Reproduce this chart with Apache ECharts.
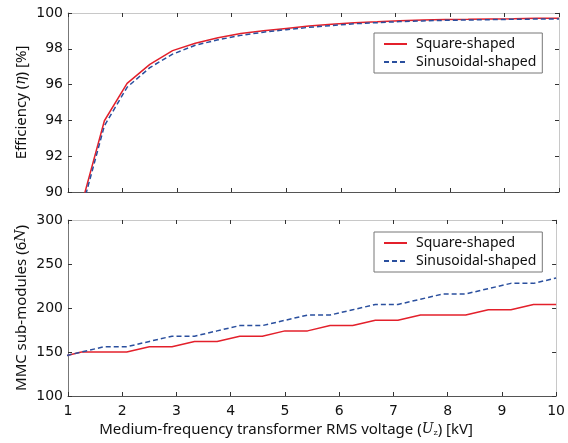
<!DOCTYPE html>
<html>
<head>
<meta charset="utf-8">
<script src="https://cdn.jsdelivr.net/npm/echarts@6/dist/echarts.min.js"></script>
<style>
  html, body { margin: 0; padding: 0; background: #fff; }
  #chart { width: 568px; height: 443px; }
</style>
</head>
<body>
<div id="chart"></div>
<script>
// voltage samples (kV)
var volts = [0.833, 1.25, 1.667, 2.083, 2.5, 2.917, 3.333, 3.75, 4.167, 4.583, 5, 5.417,
    5.833, 6.25, 6.667, 7.083, 7.5, 7.917, 8.333, 8.75, 9.167, 9.583, 10];
// efficiency [%], from 1.25 kV on
var effSquare = [89.3, 93.98, 96.07, 97.13, 97.9, 98.31, 98.62, 98.86, 99.01, 99.14, 99.27,
    99.37, 99.46, 99.51, 99.57, 99.61, 99.64, 99.65, 99.67, 99.68, 99.7, 99.7];
var effSine = [89.0, 93.7, 95.85, 96.95, 97.7, 98.2, 98.5, 98.75, 98.93, 99.07, 99.2,
    99.3, 99.4, 99.46, 99.52, 99.56, 99.59, 99.61, 99.63, 99.65, 99.66, 99.67];
// MMC sub-modules (6N)
var mmcSquare = [144, 150, 150, 150, 156, 156, 162, 162, 168, 168, 174, 174, 180, 180, 186,
    186, 192, 192, 192, 198, 198, 204, 204];
var mmcSine = [144, 150, 156, 156, 162, 168, 168, 174, 180, 180, 186, 192, 192, 198, 204,
    204, 210, 216, 216, 222, 228, 228, 234];
var xTicks = [1, 10, 1];
var effTicks = [90, 100, 2];
var mmcTicks = [100, 300, 50];

var names = ["Square-shaped", "Sinusoidal-shaped"];
var red = "#e3202b", blue = "#2a4f9e";
var txtFont = "Noto Sans";
var numFont = "DejaVu Sans";

function pairs(xs, ys) {
    var out = [];
    for (var i = 0; i < ys.length; i++) out.push([xs[i], ys[i]]);
    return out;
}

function xAx(grid, pos, labels) {
    var ax = {
        type: "value", gridIndex: grid, position: pos,
        min: xTicks[0], max: xTicks[1], interval: xTicks[2],
        axisLine: { onZero: false, lineStyle: { color: pos == "bottom" ? "#555" : "#c8c8c8", width: 1 } },
        axisTick: { show: true, inside: true, length: 4, lineStyle: { color: "#333" } },
        axisLabel: { show: labels, color: "#111", fontFamily: numFont, fontSize: 14, margin: 8 },
        splitLine: { show: false }
    };
    if (labels) {
        ax.name = "Medium-frequency transformer RMS voltage ({i|U}{s|z}) [kV]";
        ax.nameLocation = "middle";
        ax.nameGap = 26;
        ax.nameTextStyle = {
            color: "#111", fontFamily: txtFont, fontSize: 15, padding: [0, 52, 0, 0],
            rich: {
                i: { fontFamily: "DejaVu Serif", fontStyle: "italic", fontSize: 14, color: "#111" },
                s: { fontFamily: "DejaVu Serif", fontSize: 8, color: "#111", padding: [6, 0, 0, 0] }
            }
        };
    }
    return ax;
}

function yAx(grid, pos, t, name) {
    var ax = {
        type: "value", gridIndex: grid, position: pos,
        min: t[0], max: t[1], interval: t[2],
        axisLine: { show: true, onZero: false, lineStyle: { color: pos == "left" ? "#777" : "#c8c8c8", width: 1 } },
        axisTick: { show: true, inside: true, length: 4, lineStyle: { color: "#333" } },
        axisLabel: { show: pos == "left", color: "#111", fontFamily: numFont, fontSize: 14, margin: 5 },
        splitLine: { show: false }
    };
    if (name) {
        ax.name = name;
        ax.nameLocation = "middle";
        ax.nameGap = 39;
        ax.nameMoveOverlap = false;
        ax.nameTextStyle = {
            color: "#111", fontFamily: txtFont, fontSize: 15,
            rich: { i: { fontFamily: "DejaVu Serif", fontStyle: "italic", fontSize: 14, color: "#111" } }
        };
    }
    return ax;
}

function line(name, x, y, data, color, dashed) {
    return {
        name: name, type: "line", xAxisIndex: x, yAxisIndex: y, data: data,
        symbol: "none", clip: true, animation: false,
        lineStyle: { color: color, width: 1.5, type: dashed ? [5, 3] : "solid" },
        itemStyle: { color: color }
    };
}

function legend(top) {
    return {
        data: names, orient: "vertical", left: 374, top: top,
        selectedMode: false, itemWidth: 23, itemHeight: 12, itemGap: 4,
        padding: [4, 6, 4, 9],
        itemStyle: { opacity: 0 },
        backgroundColor: "#fff", borderColor: "#777", borderWidth: 1, borderRadius: 0,
        textStyle: { fontFamily: txtFont, fontSize: 14, color: "#111", padding: [0, 0, 0, 4] }
    };
}

var chart = echarts.init(document.getElementById("chart"), null, { renderer: "canvas" });
chart.setOption({
    backgroundColor: "#fff",
    animation: false,
    grid: [
        { left: 68, top: 13, width: 491, height: 179 },
        { left: 68, top: 220, width: 491, height: 176 }
    ],
    legend: [legend(33), legend(232)],
    xAxis: [xAx(0, "bottom", false), xAx(0, "top", false), xAx(1, "bottom", true), xAx(1, "top", false)],
    yAxis: [
        yAx(0, "left", effTicks, "Efficiency ({i|η}) [%]"),
        yAx(0, "right", effTicks),
        yAx(1, "left", mmcTicks, "MMC sub-modules (6{i|N})"),
        yAx(1, "right", mmcTicks)
    ],
    series: [
        line(names[0], 0, 0, pairs(volts.slice(1), effSquare), red, false),
        line(names[1], 0, 0, pairs(volts.slice(1), effSine), blue, true),
        line(names[0], 2, 2, pairs(volts, mmcSquare), red, false),
        line(names[1], 2, 2, pairs(volts, mmcSine), blue, true)
    ]
});
</script>
</body>
</html>
